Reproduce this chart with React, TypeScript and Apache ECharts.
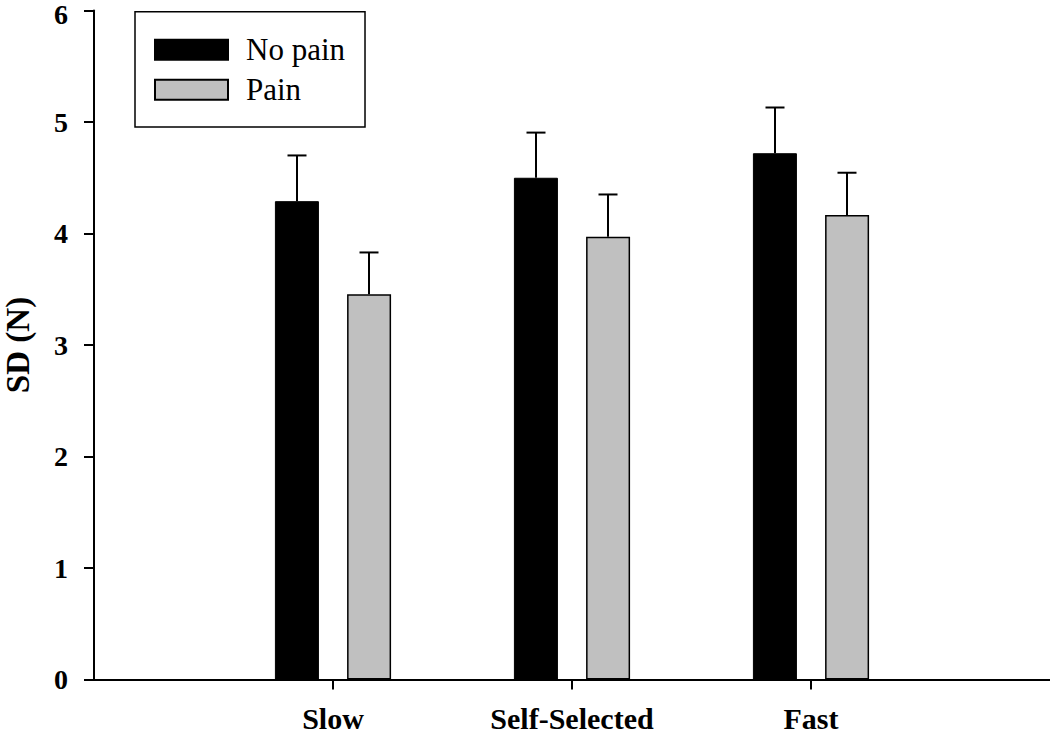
import React, { useEffect, useRef } from "react";
import * as echarts from "echarts";

const categories = ["", "Slow", "Self-Selected", "Fast", ""];
const noPain = [null, 4.29, 4.5, 4.72, null];
const noPainErr = [null, 4.7, 4.905, 5.13, null];
const pain = [null, 3.455, 3.97, 4.165, null];
const painErr = [null, 3.83, 4.35, 4.545, null];
const yTicks = [0, 1, 2, 3, 4, 5, 6];

const FONT = '"Liberation Serif", "Times New Roman", serif';
const BAR_W = 44;
const OFFSET = 36;

function errData(vals: (number | null)[], errs: (number | null)[]) {
  const out: number[][] = [];
  vals.forEach((v, i) => {
    const e = errs[i];
    if (v != null && e != null) out.push([i, v, e]);
  });
  return out;
}

function makeErrSeries(name: string, vals: (number | null)[], errs: (number | null)[], dx: number) {
  return {
    type: "custom",
    name: name + " error",
    z: 5,
    silent: true,
    data: errData(vals, errs),
    renderItem: (params: any, api: any) => {
      const i = api.value(0);
      const base = api.coord([i, api.value(1)]);
      const top = api.coord([i, api.value(2)]);
      const x = base[0] + dx;
      const style = { stroke: "#000", lineWidth: 2 };
      return {
        type: "group",
        children: [
          { type: "line", shape: { x1: x, y1: base[1], x2: x, y2: top[1] }, style },
          { type: "line", shape: { x1: x - 9.5, y1: top[1], x2: x + 9.5, y2: top[1] }, style },
        ],
      };
    },
  };
}

export default function App() {
  const ref = useRef<HTMLDivElement>(null);
  useEffect(() => {
    if (!ref.current) return;
    const chart = echarts.init(ref.current, undefined, { renderer: "svg" });
    const maxTick = yTicks[yTicks.length - 1];
    chart.setOption({
      animation: false,
      backgroundColor: "#fff",
      grid: {
        left: 94,
        right: 0,
        top: 10.5,
        bottom: 55.5,
        containLabel: false,
        outerBoundsMode: "none",
      },
      legend: {
        orient: "vertical",
        left: 135,
        top: 11.7,
        data: [
          { name: "No pain", icon: "rect" },
          { name: "Pain", icon: "rect" },
        ],
        itemWidth: 73,
        itemHeight: 20,
        itemGap: 9,
        padding: [22.6, 20, 21.7, 19],
        borderColor: "#000",
        borderWidth: 1.5,
        textStyle: {
          fontFamily: FONT,
          fontSize: 31,
          color: "#000",
          padding: [0, 0, 0, 13],
        },
        selectedMode: false,
      },
      xAxis: {
        type: "category",
        data: categories,
        boundaryGap: false,
        axisLine: { show: true, lineStyle: { color: "#000", width: 2 } },
        axisTick: {
          show: true,
          length: 10,
          interval: (i: number) => i >= 1 && i <= 3,
          lineStyle: { color: "#000", width: 2 },
        },
        axisLabel: {
          interval: (i: number) => i >= 1 && i <= 3,
          margin: 24,
          fontFamily: FONT,
          fontSize: 30,
          lineHeight: 30,
          fontWeight: "bold",
          color: "#000",
        },
        splitLine: { show: false },
      },
      yAxis: {
        type: "value",
        min: yTicks[0],
        max: maxTick,
        interval: 1,
        name: "SD (N)",
        nameLocation: "middle",
        nameGap: 60,
        nameTextStyle: {
          fontFamily: FONT,
          fontSize: 33,
          lineHeight: 33,
          fontWeight: "bold",
          color: "#000",
        },
        axisLine: { show: true, lineStyle: { color: "#000", width: 2 } },
        axisTick: { show: true, length: 10, lineStyle: { color: "#000", width: 2 } },
        axisLabel: {
          margin: 26,
          fontFamily: FONT,
          fontSize: 28,
          fontWeight: "bold",
          color: "#000",
          formatter: (v: number) => (v === maxTick ? "{top|" + v + "}" : String(v)),
          rich: {
            top: {
              fontFamily: FONT,
              fontSize: 28,
              fontWeight: "bold",
              color: "#000",
              padding: [7, 0, 0, 0],
            },
          },
        },
        splitLine: { show: false },
      },
      series: [
        {
          type: "bar",
          name: "No pain",
          data: noPain,
          barWidth: BAR_W,
          barGap: "64%",
          itemStyle: { color: "#000", borderColor: "#000", borderWidth: 1 },
        },
        {
          type: "bar",
          name: "Pain",
          data: pain,
          barWidth: BAR_W,
          barGap: "64%",
          itemStyle: { color: "#c0c0c0", borderColor: "#000", borderWidth: 1.5 },
        },
        makeErrSeries("No pain", noPain, noPainErr, -OFFSET),
        makeErrSeries("Pain", pain, painErr, OFFSET),
      ],
    });
    return () => chart.dispose();
  }, []);
  return (
    <div
      ref={ref}
      style={{ position: "fixed", left: 0, top: 0, width: 1050, height: 735, background: "#fff" }}
    />
  );
}
